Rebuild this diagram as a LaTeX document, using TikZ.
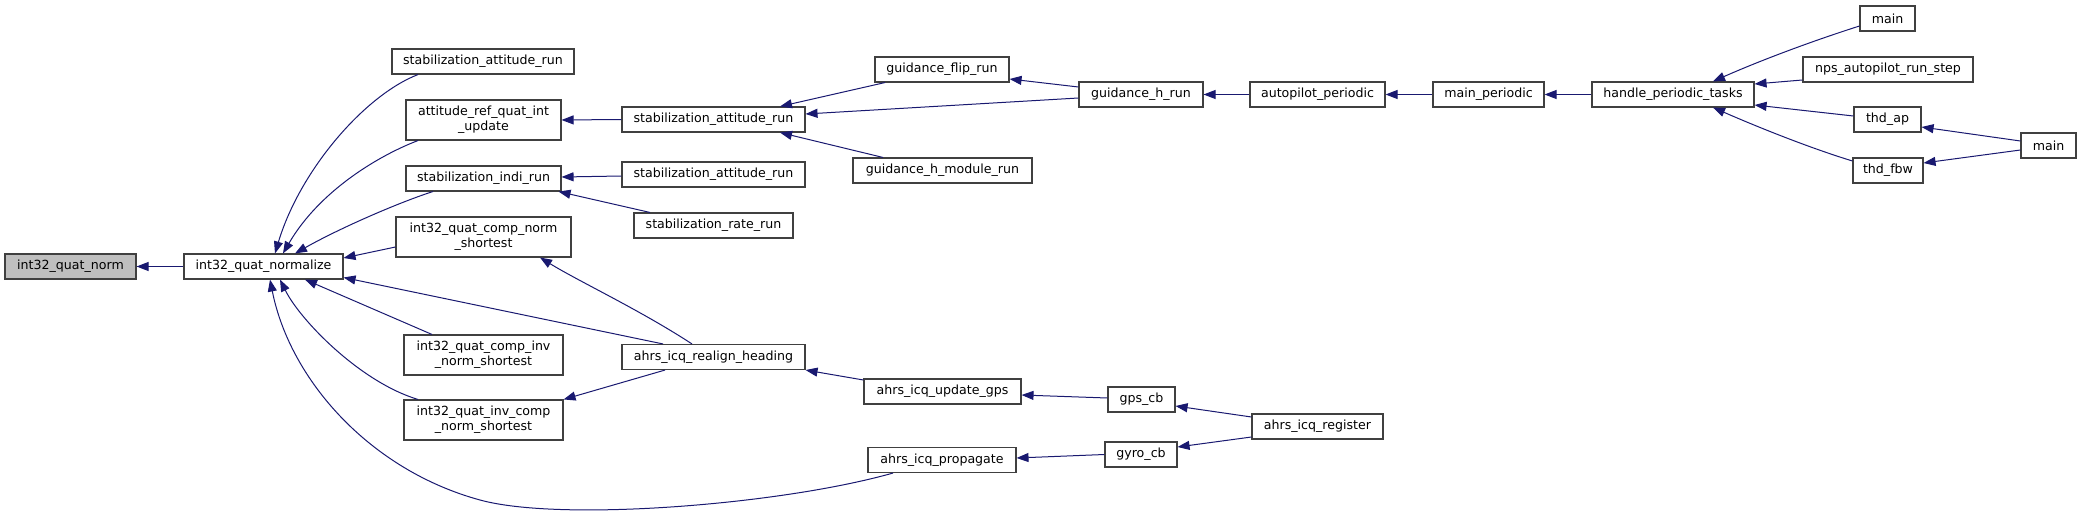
\documentclass[tikz,border=0pt]{standalone}
\usepackage{fontspec}
\setmainfont{DejaVu Sans}
\usetikzlibrary{arrows.meta}
\definecolor{edgeblue}{HTML}{191970}
\definecolor{boxgray}{HTML}{404040}
\definecolor{fillgray}{HTML}{BFBFBF}
\tikzset{
  fnbox/.style={draw=boxgray, line width=1.1pt, fill=white, inner sep=0pt, align=center,
    font=\fontsize{12.6}{15}\selectfont, minimum height=25pt},
  tallbox/.style={fnbox, minimum height=40pt},
  edge/.style={draw=edgeblue, line width=1pt, {Triangle[length=12pt,width=9pt,fill=edgeblue]}-}
}
\begin{document}
\begin{tikzpicture}[x=1pt,y=-1pt]
\useasboundingbox (0,0) rectangle (2081,511);
% nodes
\node[fnbox, fill=fillgray, minimum width=131pt] (norm) at (70.5,266.5) {int32\_quat\_norm};
\node[fnbox, minimum width=159pt] (normalize) at (263.5,266.5) {int32\_quat\_normalize};
\node[fnbox, minimum width=182pt] (sar1) at (483,61.5) {stabilization\_attitude\_run};
\node[tallbox, minimum width=155pt] (aref) at (483.5,120) {attitude\_ref\_quat\_int\\\_update};
\node[fnbox, minimum width=155pt] (indi) at (483.5,178.5) {stabilization\_indi\_run};
\node[tallbox, minimum width=175pt] (cns) at (483.5,237) {int32\_quat\_comp\_norm\\\_shortest};
\node[tallbox, minimum width=159pt] (cins) at (483.5,355) {int32\_quat\_comp\_inv\\\_norm\_shortest};
\node[tallbox, minimum width=159pt] (icns) at (483.5,420) {int32\_quat\_inv\_comp\\\_norm\_shortest};
\node[fnbox, minimum width=183pt] (sar2) at (713.5,119.5) {stabilization\_attitude\_run};
\node[fnbox, minimum width=183pt] (sar3) at (713.5,174.5) {stabilization\_attitude\_run};
\node[fnbox, minimum width=159pt] (rate) at (713.5,225.5) {stabilization\_rate\_run};
\node[fnbox, minimum width=183pt] (realign) at (713.5,357) {ahrs\_icq\_realign\_heading};
\node[fnbox, minimum width=134pt] (flip) at (942,69.5) {guidance\_flip\_run};
\node[fnbox, minimum width=179pt] (module) at (942.5,170.5) {guidance\_h\_module\_run};
\node[fnbox, minimum width=157pt] (updgps) at (942.5,391.5) {ahrs\_icq\_update\_gps};
\node[fnbox, minimum width=148pt] (prop) at (942,460) {ahrs\_icq\_propagate};
\node[fnbox, minimum width=124pt] (hrun) at (1141,94.5) {guidance\_h\_run};
\node[fnbox, minimum width=67pt] (gps) at (1141.5,399.5) {gps\_cb};
\node[fnbox, minimum width=72pt] (gyro) at (1141,454.5) {gyro\_cb};
\node[fnbox, minimum width=135pt] (ap) at (1317.5,94.5) {autopilot\_periodic};
\node[fnbox, minimum width=131pt] (reg) at (1317.5,426.5) {ahrs\_icq\_register};
\node[fnbox, minimum width=111pt] (mp) at (1488.5,94.5) {main\_periodic};
\node[fnbox, minimum width=162pt] (hpt) at (1673,94.5) {handle\_periodic\_tasks};
\node[fnbox, minimum width=55pt] (mainA) at (1887.5,18.5) {main};
\node[fnbox, minimum width=170pt] (nps) at (1888,69.5) {nps\_autopilot\_run\_step};
\node[fnbox, minimum width=67pt] (thdap) at (1887.5,119.5) {thd\_ap};
\node[fnbox, minimum width=70pt] (thdfbw) at (1888,170.5) {thd\_fbw};
\node[fnbox, minimum width=55pt] (mainB) at (2048.5,145.5) {main};
% edges (arrow tip at the callee)
\draw[edge] (norm.east) -- (normalize.west);
\draw[edge] ([xshift=11.5pt]normalize.north) .. controls (300,170) and (365,95) .. ([xshift=-65pt]sar1.south);
\draw[edge] ([xshift=19.5pt]normalize.north) .. controls (320,190) and (380,155) .. ([xshift=-65.5pt]aref.south);
\draw[edge] ([xshift=31.5pt]normalize.north) .. controls (340,228) and (400,202) .. ([xshift=-50.5pt]indi.south);
\draw[edge] ([yshift=8.5pt]normalize.east) -- ([yshift=-10pt]cns.west);
\draw[edge] ([yshift=-11pt]normalize.east) -- ([xshift=-50.5pt]realign.north);
\draw[edge] ([xshift=41.5pt]normalize.south) -- ([xshift=-51.5pt]cins.north);
\draw[edge] ([xshift=16.5pt]normalize.south) .. controls (300,320) and (360,382) .. ([xshift=-65.5pt]icns.north);
\draw[edge] ([xshift=6.5pt]normalize.south) .. controls (290,380) and (370,470) .. (480,500)
  .. controls (560,522) and (780,505) .. ([xshift=-49pt]prop.south);
\draw[edge] (aref.east) -- (sar2.west);
\draw[edge] ([yshift=1.5pt]indi.east) -- ([yshift=-1.5pt]sar3.west);
\draw[edge] ([xshift=-3pt]indi.south east) -- ([xshift=-63.5pt]rate.north);
\draw[edge] ([xshift=66.5pt]sar2.north) -- ([xshift=-57pt]flip.south);
\draw[edge] ([yshift=5.5pt]sar2.east) -- ([yshift=-3.5pt]hrun.west);
\draw[edge] ([xshift=66.5pt]sar2.south) -- ([xshift=-59.5pt]module.north);
\draw[edge] ([yshift=-9.5pt]flip.east) -- ([yshift=7.5pt]hrun.west);
\draw[edge] (hrun.east) -- (ap.west);
\draw[edge] (ap.east) -- (mp.west);
\draw[edge] (mp.east) -- (hpt.west);
\draw[edge] ([xshift=40pt]hpt.north) .. controls (1750,65) and (1800,45) .. ([yshift=-7.5pt]mainA.west);
\draw[edge] ([yshift=10.5pt]hpt.east) -- ([yshift=-10.5pt]nps.west);
\draw[edge] ([yshift=-10.5pt]hpt.east) -- ([yshift=3.5pt]thdap.west);
\draw[edge] ([xshift=40pt]hpt.south) .. controls (1760,128) and (1810,148) .. ([yshift=9.5pt]thdfbw.west);
\draw[edge] ([yshift=-7.5pt]thdap.east) -- ([yshift=4.5pt]mainB.west);
\draw[edge] ([yshift=7.5pt]thdfbw.east) -- ([yshift=-4.5pt]mainB.west);
\draw[edge] ([xshift=56.5pt]cns.south) .. controls (580,282) and (640,310) .. ([xshift=-21.5pt]realign.north);
\draw[edge] (icns.north east) -- ([xshift=-48.5pt]realign.south);
\draw[edge] (realign.south east) -- ([yshift=11.5pt]updgps.west);
\draw[edge] ([yshift=-3.5pt]updgps.east) -- ([yshift=1.5pt]gps.west);
\draw[edge] ([yshift=2pt]prop.east) -- (gyro.west);
\draw[edge] ([yshift=-6.5pt]gps.east) -- ([yshift=9.5pt]reg.west);
\draw[edge] ([yshift=7.5pt]gyro.east) -- ([yshift=-10.5pt]reg.west);
\end{tikzpicture}
\end{document}
